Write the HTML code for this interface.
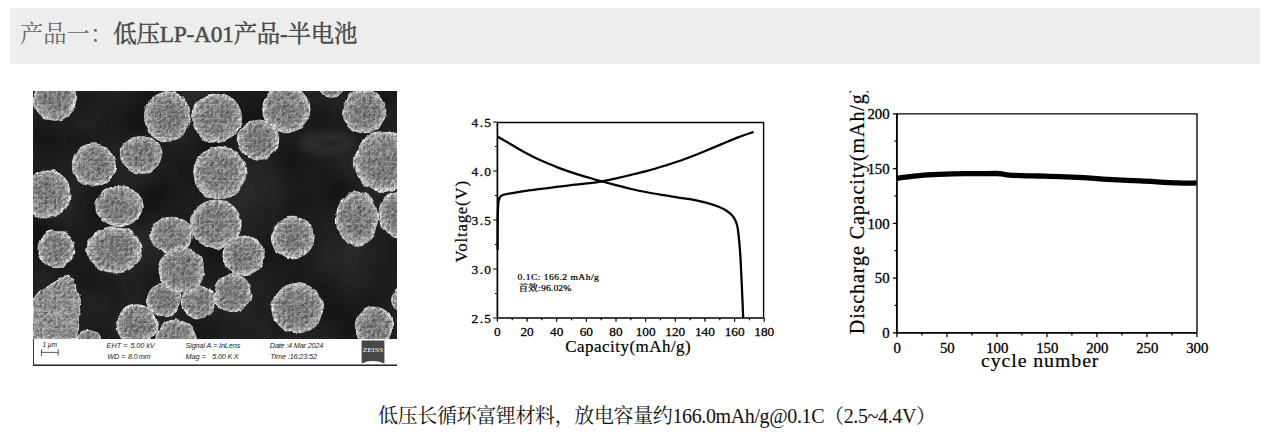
<!DOCTYPE html>
<html><head><meta charset="utf-8"><title>LP-A01</title>
<style>
html,body{margin:0;padding:0;background:#fff;}
body{width:1275px;height:440px;overflow:hidden;font-family:"Liberation Sans",sans-serif;}
svg{display:block}
</style></head><body>
<svg width="1275" height="440" viewBox="0 0 1275 440">
<rect x="10" y="8" width="1250" height="56" fill="#ededed"/>
<text x="20" y="42.2" font-family="'Liberation Serif','Noto Serif CJK SC',serif" font-size="23.3" fill="#686868">产品一：</text>
<text x="113.32" y="42.2" font-family="'Liberation Serif','Noto Serif CJK SC',serif" font-size="23.4" fill="#4a4a4a" stroke="#4a4a4a" stroke-width="0.5" textLength="244" lengthAdjust="spacing">低压LP-A01产品-半电池</text>
<text x="378" y="422.7" font-family="'Liberation Serif','Noto Serif CJK SC',serif" font-size="20" fill="#111" textLength="558" lengthAdjust="spacing">低压长循环富锂材料，放电容量约166.0mAh/g@0.1C（2.5~4.4V）</text>
<defs>
<clipPath id="semclip"><rect x="33" y="91" width="364" height="248"/></clipPath>
<radialGradient id="sg" cx="50%" cy="50%" r="50%">
<stop offset="0" stop-color="#747474"/><stop offset="0.6" stop-color="#7c7c7c"/><stop offset="0.84" stop-color="#969696"/><stop offset="0.95" stop-color="#bcbcbc"/><stop offset="1" stop-color="#929292"/>
</radialGradient>
<filter id="semtex" x="23" y="81" width="384" height="268" filterUnits="userSpaceOnUse" color-interpolation-filters="sRGB">
<feTurbulence type="fractalNoise" baseFrequency="0.09" numOctaves="2" seed="11" result="wob"/>
<feDisplacementMap in="SourceGraphic" in2="wob" scale="5" xChannelSelector="R" yChannelSelector="G" result="shape"/>
<feTurbulence type="turbulence" baseFrequency="0.21 0.21" numOctaves="2" seed="5" result="t"/>
<feComponentTransfer in="t" result="rg"><feFuncR type="table" tableValues="1 0.6 0.18 0.03 0 0 0 0 0 0"/></feComponentTransfer>
<feColorMatrix in="rg" type="matrix" values="1 0 0 0 0  1 0 0 0 0  1 0 0 0 0  0 0 0 0 1" result="ridge"/>
<feDiffuseLighting in="t" surfaceScale="2" diffuseConstant="1.1" lighting-color="#fff" result="lit"><feDistantLight azimuth="225" elevation="58"/></feDiffuseLighting>
<feComposite in="shape" in2="lit" operator="arithmetic" k1="0.55" k2="0.45" k3="0" k4="0" result="m0"/>
<feComposite in="m0" in2="ridge" operator="arithmetic" k1="0.3" k2="1.0" k3="0.09" k4="0" result="m"/>
<feComposite in="m" in2="shape" operator="in" result="mm"/>
<feGaussianBlur in="mm" stdDeviation="0.6"/>
</filter>
<filter id="bgn" x="33" y="91" width="364" height="248" filterUnits="userSpaceOnUse" color-interpolation-filters="sRGB">
<feTurbulence type="fractalNoise" baseFrequency="0.018" numOctaves="2" seed="4" result="lo"/>
<feColorMatrix in="lo" type="matrix" values="0.13 0 0 0 0.05  0.13 0 0 0 0.05  0.13 0 0 0 0.05  0 0 0 0 1" result="cloud"/>
<feTurbulence type="fractalNoise" baseFrequency="0.45" numOctaves="2" seed="2" result="hi"/>
<feColorMatrix in="hi" type="matrix" values="0.06 0 0 0 -0.03  0.06 0 0 0 -0.03  0.06 0 0 0 -0.03  0 0 0 0 1" result="spk"/>
<feComposite in="cloud" in2="spk" operator="arithmetic" k1="0" k2="1" k3="1" k4="0"/>
</filter>
</defs>
<g clip-path="url(#semclip)">
<rect x="33" y="91" width="364" height="248" fill="#1e1e1e"/>
<rect x="33" y="91" width="364" height="248" fill="#fff" filter="url(#bgn)"/>
<ellipse cx="326" cy="143" rx="28" ry="11" fill="#3c3c3c" opacity="0.55" style="filter:blur(4px)"/><ellipse cx="331" cy="143.5" rx="13" ry="3" fill="#181818" opacity="0.6" style="filter:blur(2px)"/>
<g filter="url(#semtex)">
<path d="M33 300 L40 292 L52 284 L62 278 L68 275 L74 279 L76 290 L79 300 L80 315 L78 330 L76 339 L33 339Z" fill="#8a8a8a" stroke="#c0c0c0" stroke-width="1.5"/>
<ellipse cx="55" cy="98" rx="22.5" ry="23" fill="url(#sg)"/>
<ellipse cx="167.4" cy="116.5" rx="23.7" ry="25.5" fill="url(#sg)"/>
<ellipse cx="217" cy="117.8" rx="25.3" ry="25.3" fill="url(#sg)"/>
<ellipse cx="286.4" cy="109" rx="24.4" ry="24.4" fill="url(#sg)"/>
<ellipse cx="331.7" cy="83" rx="14" ry="14" fill="url(#sg)"/>
<ellipse cx="364.4" cy="111.3" rx="22.3" ry="22.3" fill="url(#sg)"/>
<ellipse cx="383.6" cy="161.4" rx="30" ry="31" fill="url(#sg)"/>
<ellipse cx="258.5" cy="139.6" rx="21" ry="20.4" fill="url(#sg)"/>
<ellipse cx="141.4" cy="154.4" rx="21.6" ry="19.7" fill="url(#sg)"/>
<ellipse cx="93.9" cy="165" rx="22.3" ry="22" fill="url(#sg)"/>
<ellipse cx="47" cy="194" rx="24" ry="25" fill="url(#sg)"/>
<ellipse cx="119" cy="206" rx="24" ry="20.5" fill="url(#sg)"/>
<ellipse cx="56.5" cy="249" rx="19.3" ry="19.4" fill="url(#sg)"/>
<ellipse cx="114" cy="250" rx="28" ry="24" fill="url(#sg)"/>
<ellipse cx="137" cy="325" rx="21" ry="21" fill="url(#sg)"/>
<ellipse cx="176" cy="340" rx="21" ry="21" fill="url(#sg)"/>
<ellipse cx="89" cy="343" rx="14" ry="14" fill="url(#sg)"/>
<ellipse cx="163.7" cy="299.5" rx="18" ry="17" fill="url(#sg)"/>
<ellipse cx="171.5" cy="235" rx="21.5" ry="19.5" fill="url(#sg)"/>
<ellipse cx="216" cy="224" rx="26" ry="24.7" fill="url(#sg)"/>
<ellipse cx="219.8" cy="172.7" rx="26.8" ry="26.8" fill="url(#sg)"/>
<ellipse cx="198.7" cy="301.6" rx="17.3" ry="17.3" fill="url(#sg)"/>
<ellipse cx="232.8" cy="293.2" rx="19.3" ry="19.3" fill="url(#sg)"/>
<ellipse cx="243.5" cy="255.9" rx="21.4" ry="20.6" fill="url(#sg)"/>
<ellipse cx="181.8" cy="270.2" rx="23.5" ry="23.5" fill="url(#sg)"/>
<ellipse cx="292.8" cy="237.5" rx="22.2" ry="21.2" fill="url(#sg)"/>
<ellipse cx="357" cy="218.5" rx="21.5" ry="27.5" fill="url(#sg)"/>
<ellipse cx="400" cy="214" rx="22" ry="23.5" fill="url(#sg)"/>
<ellipse cx="297.2" cy="308" rx="26.2" ry="25.4" fill="url(#sg)"/>
<ellipse cx="374" cy="325.6" rx="19.4" ry="19.4" fill="url(#sg)"/>
<ellipse cx="408" cy="300" rx="16" ry="16" fill="url(#sg)"/>
</g>
</g>
<rect x="33" y="339" width="364" height="27" fill="#fff"/>
<rect x="33" y="364.5" width="364" height="1.4" fill="#111"/>
<rect x="33" y="339" width="1" height="26" fill="#333"/>
<g font-family="'Liberation Sans',sans-serif" font-style="italic" fill="#222">
<text x="42.5" y="346.6" font-size="6.7" textLength="14.5" lengthAdjust="spacing">1 µm</text>
<text x="106.6" y="348" font-size="7.3">EHT =</text>
<text x="130.5" y="348" font-size="7.3" textLength="24.1" lengthAdjust="spacing">5.00 kV</text>
<text x="107.2" y="358.7" font-size="7.3">WD =</text>
<text x="128" y="358.7" font-size="7.3" textLength="22.6" lengthAdjust="spacing">8.0 mm</text>
<text x="185.4" y="348" font-size="7.3" textLength="54.9" lengthAdjust="spacing">Signal A = InLens</text>
<text x="185.4" y="358.7" font-size="7.3">Mag =</text>
<text x="212.3" y="358.7" font-size="7.3" textLength="26.4" lengthAdjust="spacing">5.00 K X</text>
<text x="269.8" y="348" font-size="7.3" textLength="53.5" lengthAdjust="spacing">Date :4 Mar 2024</text>
<text x="270.2" y="358.7" font-size="7.3" textLength="46.9" lengthAdjust="spacing">Time :16:23:52</text>
</g>
<path d="M41.5 352.4H58.2M41.5 349.2V355.8M58.2 349.2V355.8" stroke="#333" stroke-width="0.8" fill="none"/>
<path d="M361.6 340.4H384.4V363.4Q373 358.6 361.6 363.4Z" fill="#484848"/>
<text x="362.7" y="352.4" font-family="'Liberation Serif',serif" font-size="7" fill="#fff" textLength="20.6" lengthAdjust="spacingAndGlyphs">ZEISS</text>
<g fill="none" stroke="#000">
<path d="M497.4 122.5V318H763.6" stroke-width="1.7"/>
<path d="M497.4 122.5H763.6V318" stroke-width="1.35"/>
<path d="M497.4 318h-4.3M497.4 293.5h-2.5M497.4 269h-4.3M497.4 244.5h-2.5M497.4 220h-4.3M497.4 195.5h-2.5M497.4 171h-4.3M497.4 146.5h-2.5M497.4 122h-4.3M497.4 318v3.8M512.23 318v2.2M527.05 318v3.8M541.88 318v2.2M556.7 318v3.8M571.52 318v2.2M586.35 318v3.8M601.17 318v2.2M616 318v3.8M630.82 318v2.2M645.65 318v3.8M660.47 318v2.2M675.3 318v3.8M690.12 318v2.2M704.95 318v3.8M719.77 318v2.2M734.6 318v3.8M749.42 318v2.2M764.25 318v3.8" stroke-width="1.2"/>
<path d="M497.6 136.6C499.17 137.5 502.6 139.43 507 142C511.4 144.57 518.32 148.9 524 152C529.68 155.1 535.42 158 541.1 160.6C546.78 163.2 552.42 165.43 558.1 167.6C563.78 169.77 569.88 171.87 575.2 173.6C580.52 175.33 585.52 176.7 590 178C594.48 179.3 598.08 180.3 602.1 181.4C606.12 182.5 609.27 183.33 614.1 184.6C618.93 185.87 625.43 187.68 631.1 189C636.77 190.32 642.42 191.43 648.1 192.5C653.78 193.57 659.88 194.52 665.2 195.4C670.52 196.28 675.87 197.17 680 197.8C684.13 198.43 685.68 198.38 690 199.2C694.32 200.02 701.13 201.45 705.9 202.7C710.67 203.95 715.15 205.37 718.6 206.7C722.05 208.03 724.33 209.23 726.6 210.7C728.87 212.17 730.75 213.92 732.2 215.5C733.65 217.08 734.43 218.35 735.3 220.2C736.17 222.05 736.87 224.22 737.4 226.6C737.93 228.98 738.13 231.32 738.5 234.5C738.87 237.68 739.25 241.45 739.6 245.7C739.95 249.95 740.23 253.45 740.6 260C740.97 266.55 741.37 275.33 741.8 285C742.23 294.67 742.97 312.5 743.2 318" stroke-width="2.25" stroke-linejoin="round"/>
<path d="M497.6 250C497.63 244.17 497.68 222.67 497.8 215C497.92 207.33 498.07 206.67 498.3 204C498.53 201.33 498.85 200.23 499.2 199C499.55 197.77 499.77 197.27 500.4 196.6C501.03 195.93 501.9 195.43 503 195C504.1 194.57 503.5 194.65 507 194C510.5 193.35 518.32 191.95 524 191.1C529.68 190.25 535.42 189.63 541.1 188.9C546.78 188.17 552.42 187.42 558.1 186.7C563.78 185.98 569.88 185.18 575.2 184.6C580.52 184.02 585.52 183.73 590 183.2C594.48 182.67 598.08 182.13 602.1 181.4C606.12 180.67 609.27 179.88 614.1 178.8C618.93 177.72 625.43 176.25 631.1 174.9C636.77 173.55 642.42 172.25 648.1 170.7C653.78 169.15 659.88 167.25 665.2 165.6C670.52 163.95 676.37 162.02 680 160.8C683.63 159.58 682.98 159.85 687 158.3C691.02 156.75 698.42 153.82 704.1 151.5C709.78 149.18 715.43 146.75 721.1 144.4C726.77 142.05 732.7 139.48 738.1 137.4C743.5 135.32 750.93 132.82 753.5 131.9" stroke-width="2.25" stroke-linejoin="round"/>
</g>
<g font-family="'Liberation Serif',serif" font-size="13.4" fill="#000" stroke="#000" stroke-width="0.3" text-anchor="end">
<text transform="translate(491 323.2) scale(1 0.93)" textLength="19.4" lengthAdjust="spacing">2.5</text>
<text transform="translate(491 274.2) scale(1 0.93)" textLength="19.4" lengthAdjust="spacing">3.0</text>
<text transform="translate(491 225.2) scale(1 0.93)" textLength="19.4" lengthAdjust="spacing">3.5</text>
<text transform="translate(491 176.2) scale(1 0.93)" textLength="19.4" lengthAdjust="spacing">4.0</text>
<text transform="translate(491 127.2) scale(1 0.93)" textLength="19.4" lengthAdjust="spacing">4.5</text>
</g>
<g font-family="'Liberation Serif',serif" font-size="13.3" fill="#000" stroke="#000" stroke-width="0.3" text-anchor="middle">
<text transform="translate(497.4 335.8) scale(1 0.93)">0</text>
<text transform="translate(527.05 335.8) scale(1 0.93)">20</text>
<text transform="translate(556.7 335.8) scale(1 0.93)">40</text>
<text transform="translate(586.35 335.8) scale(1 0.93)">60</text>
<text transform="translate(616 335.8) scale(1 0.93)">80</text>
<text transform="translate(645.65 335.8) scale(1 0.93)">100</text>
<text transform="translate(675.3 335.8) scale(1 0.93)">120</text>
<text transform="translate(704.95 335.8) scale(1 0.93)">140</text>
<text transform="translate(734.6 335.8) scale(1 0.93)">160</text>
<text transform="translate(764.25 335.8) scale(1 0.93)">180</text>
</g>
<text x="565.3" y="352.4" font-family="'Liberation Serif',serif" font-size="17" fill="#000" stroke="#000" stroke-width="0.2" textLength="125.4" lengthAdjust="spacing">Capacity(mAh/g)</text>
<text transform="translate(466.5 262.5) rotate(-90)" font-family="'Liberation Serif',serif" font-size="16.7" fill="#000" stroke="#000" stroke-width="0.2" textLength="81.5" lengthAdjust="spacing">Voltage(V)</text>
<text transform="translate(517.6 279.9) scale(1 0.94)" font-family="'Liberation Serif','Noto Serif CJK SC',serif" font-size="9.6" fill="#000" stroke="#000" stroke-width="0.25" textLength="81.3" lengthAdjust="spacing">0.1C: 166.2 mAh/g</text>
<text transform="translate(518.6 291.2) scale(1 0.94)" font-family="'Liberation Serif','Noto Serif CJK SC',serif" font-size="9.6" fill="#000" stroke="#000" stroke-width="0.25" textLength="52.7" lengthAdjust="spacing">首效:96.02%</text>
<g fill="none" stroke="#000">
<path d="M896.9 113.8V332.8H1197" stroke-width="1.85"/>
<path d="M896.9 113.8H1197V332.8" stroke-width="1.35"/>
<path d="M896.9 332.8h-4M896.9 305.43h-2.4M896.9 278.05h-4M896.9 250.68h-2.4M896.9 223.3h-4M896.9 195.93h-2.4M896.9 168.55h-4M896.9 141.18h-2.4M896.9 113.8h-4M896.9 332.8v4.4M921.9 332.8v2.8M946.9 332.8v4.4M971.9 332.8v2.8M996.9 332.8v4.4M1021.9 332.8v2.8M1046.9 332.8v4.4M1071.9 332.8v2.8M1096.9 332.8v4.4M1121.9 332.8v2.8M1146.9 332.8v4.4M1171.9 332.8v2.8M1196.9 332.8v4.4" stroke-width="1.2"/>
<path d="M897 178.3C898.33 178.12 899.9 177.77 905 177.2C910.1 176.63 919.65 175.47 927.6 174.9C935.55 174.33 944.33 174 952.7 173.8C961.07 173.6 970.47 173.75 977.8 173.7C985.13 173.65 992.5 173.43 996.7 173.5C1000.9 173.57 1000.92 173.83 1003 174.1C1005.08 174.37 1005.03 174.82 1009.2 175.1C1013.37 175.38 1022.87 175.65 1028 175.8C1033.13 175.95 1031.73 175.75 1040 176C1048.27 176.25 1067.15 176.78 1077.6 177.3C1088.05 177.82 1092.23 178.5 1102.7 179.1C1113.17 179.7 1127.85 180.27 1140.4 180.9C1152.95 181.53 1168.65 182.55 1178 182.9C1187.35 183.25 1193.42 182.98 1196.5 183" stroke-width="5.3"/>
</g>
<g font-family="'Liberation Serif',serif" font-size="14.8" fill="#000" stroke="#000" stroke-width="0.3" text-anchor="end">
<text x="889.6" y="338.2">0</text>
<text x="889.6" y="283.45">50</text>
<text x="889.6" y="228.7">100</text>
<text x="889.6" y="173.95">150</text>
<text x="889.6" y="119.2">200</text>
</g>
<g font-family="'Liberation Serif',serif" font-size="14.8" fill="#000" stroke="#000" stroke-width="0.3" text-anchor="middle">
<text x="897.3" y="352.9">0</text>
<text x="947.3" y="352.9">50</text>
<text x="997.3" y="352.9">100</text>
<text x="1047.3" y="352.9">150</text>
<text x="1097.3" y="352.9">200</text>
<text x="1147.3" y="352.9">250</text>
<text x="1197.3" y="352.9">300</text>
</g>
<text transform="translate(981 366.7) scale(1 0.93)" font-family="'Liberation Serif',serif" font-size="19.9" fill="#000" stroke="#000" stroke-width="0.2" textLength="117.5" lengthAdjust="spacing">cycle number</text>
<clipPath id="ylc"><rect x="840" y="91" width="40" height="260"/></clipPath>
<g clip-path="url(#ylc)"><text transform="translate(864 334.2) rotate(-90)" font-family="'Liberation Serif',serif" font-size="20" fill="#000" stroke="#000" stroke-width="0.2" textLength="247.6" lengthAdjust="spacing">Discharge Capacity(mAh/g)</text></g>
</svg>
</body></html>
